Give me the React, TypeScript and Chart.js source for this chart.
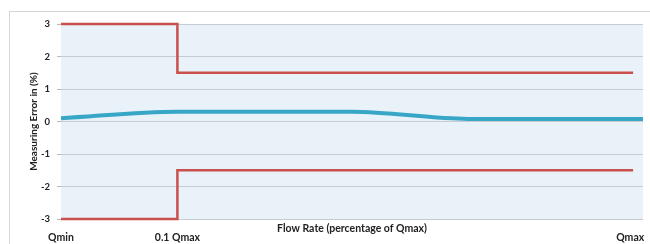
import React, { useEffect, useRef } from "react";
import { Chart, registerables } from "chart.js";

Chart.register(...registerables);

// Data
const limitX = [0, 20, 98.3];
const upperLimit = [3, 1.5, 1.5];
const lowerLimit = [-3, -1.5, -1.5];
const meterX = [0, 20, 50, 70, 100];
const meterError = [0.1, 0.3, 0.3, 0.08, 0.08];
const xTickValues = [0, 20, 97.8];
const xTickLabels = ["Qmin", "0.1 Qmax", "Qmax"];
const yTicks = [-3, -2, -1, 0, 1, 2, 3];

const FONT = "Lato, 'Open Sans', sans-serif";

const bgPlugin = {
  id: "plotBg",
  beforeDraw(chart: any) {
    const { ctx, chartArea } = chart;
    ctx.save();
    ctx.fillStyle = "#e9f2f8";
    ctx.fillRect(chartArea.left, chartArea.top, chartArea.right - chartArea.left, chartArea.bottom - chartArea.top);
    ctx.restore();
  },
};

export default function App() {
  const ref = useRef<HTMLCanvasElement>(null);
  useEffect(() => {
    if (!ref.current) return;
    const chart = new Chart(ref.current, {
      type: "line",
      data: {
        datasets: [
          {
            label: "Upper limit",
            data: limitX.map((x, i) => ({ x, y: upperLimit[i] })),
            borderColor: "#c9504c",
            borderWidth: 2.5,
            stepped: "before",
            pointRadius: 0,
            fill: false,
            clip: 6,
          },
          {
            label: "Lower limit",
            data: limitX.map((x, i) => ({ x, y: lowerLimit[i] })),
            borderColor: "#c9504c",
            borderWidth: 2.5,
            stepped: "before",
            pointRadius: 0,
            fill: false,
            clip: 6,
          },
          {
            label: "Measuring error",
            data: meterX.map((x, i) => ({ x, y: meterError[i] })),
            borderColor: "#38a7c7",
            borderWidth: 4,
            cubicInterpolationMode: "monotone",
            pointRadius: 0,
            fill: false,
            clip: 6,
          },
        ],
      },
      options: {
        animation: false,
        responsive: false,
        maintainAspectRatio: false,
        layout: { padding: { top: 24, right: 7, left: 0, bottom: 0 } },
        plugins: { legend: { display: false }, tooltip: { enabled: false } },
        scales: {
          x: {
            type: "linear",
            min: 0,
            max: 100,
            afterBuildTicks: (s: any) => {
              s.ticks = xTickValues.map((v) => ({ value: v }));
            },
            afterFit: (s: any) => {
              s.height = 25;
              s.paddingLeft = 0;
              s.paddingRight = 0;
            },
            grid: { display: false, drawTicks: false },
            border: { display: false },
            ticks: {
              autoSkip: false,
              maxRotation: 0,
              padding: 12,
              color: "#222",
              font: { family: FONT, size: 10.5, weight: "bold" },
              callback: (v: any) => {
                const i = xTickValues.indexOf(Number(v));
                return i >= 0 ? xTickLabels[i] : "";
              },
            },
            title: {
              display: true,
              text: "Flow Rate (percentage of Qmax)",
              color: "#222",
              font: { family: FONT, size: 10.5, weight: "bold" },
              padding: { top: 0, bottom: 9 },
            },
          },
          y: {
            type: "linear",
            min: -3,
            max: 3,
            afterBuildTicks: (s: any) => {
              s.ticks = yTicks.map((v) => ({ value: v }));
            },
            afterFit: (s: any) => {
              s.width = 61;
            },
            grid: { color: "#c8ccd2", lineWidth: 1, drawTicks: true, tickLength: 4, tickColor: "#b8b8b8" },
            border: { display: false },
            ticks: {
              padding: 7,
              color: "#222",
              font: { family: FONT, size: 9.5, weight: "bold" },
            },
            title: {
              display: true,
              text: "Measuring Error in (%)",
              color: "#222",
              font: { family: FONT, size: 10, weight: "bold" },
              padding: { top: 27.5, bottom: 0 },
            },
          },
        },
      },
      plugins: [bgPlugin],
    } as any);
    return () => chart.destroy();
  }, []);

  return (
    <div style={{ position: "absolute", left: 0, top: 0, width: 650, height: 244, overflow: "hidden", background: "#fff" }}>
      <div
        style={{
          position: "absolute",
          left: 9,
          top: 11,
          width: 700,
          height: 300,
          border: "1px solid #d6d6d6",
        }}
      />
      <canvas ref={ref} width={650} height={244} style={{ position: "absolute", left: 0, top: 0, width: 650, height: 244 }} />
    </div>
  );
}
